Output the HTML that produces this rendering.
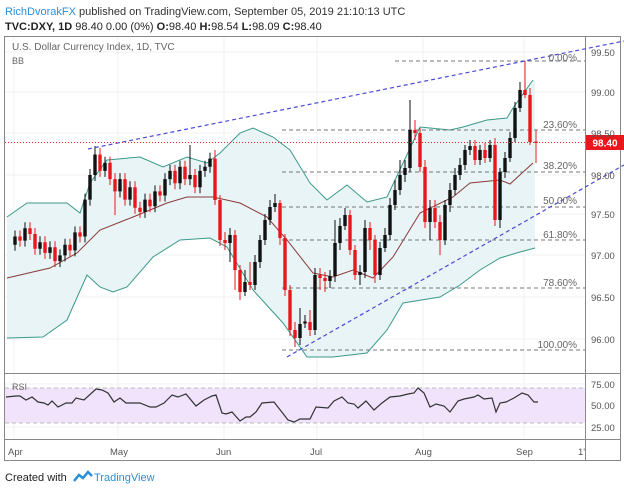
<!DOCTYPE html>
<html><head><meta charset="utf-8"><style>
body{margin:0;width:624px;height:490px;background:#fff;overflow:hidden}
</style></head><body>
<svg width="624" height="490" xmlns="http://www.w3.org/2000/svg" font-family="Liberation Sans, sans-serif">
<text x="5" y="15" font-size="11" fill="#2a8fd8">RichDvorakFX <tspan fill="#333">published on TradingView.com, September 05, 2019 21:10:13 UTC</tspan></text>
<text x="5" y="30" font-size="11" fill="#222" font-weight="bold">TVC:DXY, 1D <tspan font-weight="normal">98.40 0.00 (0%) </tspan>O:<tspan font-weight="normal">98.40 </tspan>H:<tspan font-weight="normal">98.54 </tspan>L:<tspan font-weight="normal">98.09 </tspan>C:<tspan font-weight="normal">98.40</tspan></text>
<rect x="4.5" y="36.5" width="616" height="424" fill="#fff" stroke="#888"/>
<g stroke="#edf0f3">
<path d="M14 37V439M118 37V439M224 37V439M317 37V439M423 37V439M524 37V439"/>
<path d="M5 52H585M5 92H585M5 133H585M5 175H585M5 214H585M5 255H585M5 297H585M5 339H585M5 384H585M5 405H585M5 427H585"/>
</g>
<rect x="5" y="388" width="580" height="35" fill="#f1e3fb"/>
<path d="M5 388H585M5 423H585" stroke="#bbb" stroke-dasharray="4,3"/>
<line x1="585.5" y1="37" x2="585.5" y2="460" stroke="#888"/>
<line x1="5" y1="373.5" x2="620" y2="373.5" stroke="#888"/>
<line x1="5" y1="439.5" x2="620" y2="439.5" stroke="#888"/>
<polygon points="7,217 27,203 67,203 80,213 90,183 107,160 140,157 163,167 187,157 207,163 220,153 240,133 253,128 273,137 290,150 310,183 327,200 347,185 367,202 387,197 420,127 450,130 463,127 487,120 507,118 513,108 533,80 535,80 535,248 520,252 500,258 480,270 460,285 440,297 403,303 387,330 367,353 333,357 307,357 283,323 253,290 227,247 210,238 180,240 153,257 127,287 113,292 100,287 87,275 67,320 43,337 7,338" fill="#e8f4f5"/>
<g fill="none" stroke="#3b9a8a">
<polyline points="7,217 27,203 67,203 80,213 90,183 107,160 140,157 163,167 187,157 207,163 220,153 240,133 253,128 273,137 290,150 310,183 327,200 347,185 367,202 387,197 420,127 450,130 463,127 487,120 507,118 513,108 533,80"/>
<polyline points="7,338 43,337 67,320 87,275 100,287 113,292 127,287 153,257 180,240 210,238 227,247 253,290 283,323 307,357 333,357 367,353 387,330 403,303 440,297 460,285 480,270 500,258 520,252 535,248"/>
</g>
<polyline fill="none" stroke="#8b3a3a" points="7,278 50,268 77,253 100,230 133,217 167,203 187,197 213,197 240,203 267,217 287,240 313,273 333,277 353,270 373,278 393,257 420,213 453,197 470,183 500,180 510,184 533,163"/>
<path d="M395 61H585M282 130H585M282 172H585M282 207H585M282 240H585M282 288H585M282 350H585" stroke="#777" stroke-dasharray="4,3"/>
<path stroke="#111" stroke-width="1" d="M15 230.5V250.7M25 222.3V246.6M40 236.2V254.8M50 241.2V258.9M60 249.4V267.1M65 238.7V261.4M75 226.4V256.4M85 193.6V242.5M90 169V205.6M95 146V181M105 156.7V176.9M120 173.1V197.4M130 181.3V205.6M145 193.6V217.9M155 185.4V212.2M165 173.1V201.5M170 164.9V185.1M180 160.8V189.2M190 145V185.1M200 164.9V193.3M205 160.8V176.9M210 152.6V172.8M230 228V262M245 270V296M255 255V290M260 235V268M265 214V245M270 200V225M275 194V212M300 308V345M305 315V328M315 268V335M330 270V288M335 220V282M340 218V250M345 208V230M360 265V285M365 220V278M380 242V280M385 228V252M390 198V240M395 180V210M400 160V195M405 160V182M410 100V172M430 200V240M445 200V245M450 183V212M455 168V195M460 158V180M465 145V170M470 140V155M480 145V165M490 140V162M500 168V228M505 152V178M510 132V162M515 102V142M520 82V112"/>
<path stroke="#111" stroke-width="3.4" d="M15 244.7V236.5M25 240.6V228.3M40 248.8V242.2M50 252.9V247.2M60 261.1V255.4M65 255.4V244.7M75 250.4V232.4M85 236.5V199.6M90 199.6V175M95 175V154.5M105 170.9V162.7M120 191.4V179.1M130 199.6V187.3M145 211.9V199.6M155 206.2V191.4M165 195.5V179.1M170 179.1V170.9M180 183.2V166.8M190 179.1V175M200 187.3V170.9M205 170.9V166.8M210 166.8V158.6M230 243V235M245 292V282M255 285V262M260 262V240M265 240V220M270 220V207M275 207V203M300 338V324M305 323.5V321.5M315 330V275M330 281V276M335 276V243M340 243V226M345 226V215M360 275V272M365 272V228M380 275V248M385 248V235M390 235V205M395 205V190M400 190V175M405 175V168M410 168V130M430 222V208M445 240V205M450 205V190M455 190V175M460 175V165M465 165V150M470 150V146M480 160V150M490 158V145M500 220V172M505 172V158M510 158V138M515 138V108M520 108V90"/>
<path stroke="#e8171c" stroke-width="1" d="M20 230.5V246.6M30 222.3V240M35 228V254.8M45 236.2V258.9M55 241.2V267.1M70 238.7V256.4M80 226.4V242.5M100 148V176.9M110 156.7V185.1M115 173.1V215M125 173.1V205.6M135 181.3V213.8M140 201.8V217.9M150 193.6V212.2M160 185.4V201.5M175 164.9V189.2M185 160.8V185.1M195 169V193.3M215 150V205M220 195V246M225 232V250M235 230V290M240 265V300M250 262V290M280 200V245M285 234V296M290 285V336M295 322V347M310 310V336M320 268V290M325 272V292M350 210V255M355 245V280M370 222V250M375 235V283M415 120V140M420 128V172M425 160V228M435 200V228M440 215V255M475 140V165M485 143V163M495 138V226M525 61V98M530 88V145M536 130V163"/>
<path stroke="#e8171c" stroke-width="3.4" d="M20 236.5V240.6M30 228.3V234M35 234V248.8M45 242.2V252.9M55 247.2V261.1M70 244.7V250.4M80 232.4V236.5M100 154.5V170.9M110 162.7V179.1M115 179.1V191.4M125 179.1V199.6M135 187.3V207.8M140 207.8V211.9M150 199.6V206.2M160 191.4V195.5M175 170.9V183.2M185 166.8V179.1M195 175V187.3M215 158.6V200M220 200V240M225 240V243M235 235V270M240 270V292M250 282V285M280 203V238M285 238V290M290 290V330M295 330V338M310 322V330M320 275V278M325 278V281M350 215V250M355 250V275M370 228V240M375 240V275M415 130V133M420 133V167M425 167V222M435 208V222M440 222V240M475 146V160M485 150V158M495 145V220M525 90V95M530 95V142M536 141.5V143"/>
<line x1="88" y1="149" x2="624" y2="41" stroke="#4a4ad8" stroke-dasharray="4,3" stroke-width="1.2"/>
<line x1="287" y1="357" x2="624" y2="165" stroke="#4a4ad8" stroke-dasharray="4,3" stroke-width="1.2"/>
<line x1="5" y1="142.5" x2="585" y2="142.5" stroke="#e22" stroke-dasharray="1,2"/>
<rect x="586" y="135" width="38" height="15" fill="#e8171c"/>
<text x="605" y="146.5" font-size="10" fill="#fff" text-anchor="middle" font-weight="bold">98.40</text>
<g font-size="9.5" fill="#555">
<text x="591" y="56">99.50</text><text x="591" y="96">99.00</text><text x="591" y="137">98.50</text><text x="591" y="179">98.00</text><text x="591" y="218">97.50</text><text x="591" y="259">97.00</text><text x="591" y="301">96.50</text><text x="591" y="343">96.00</text>
<text x="591" y="388">75.00</text><text x="591" y="409">50.00</text><text x="591" y="431">25.00</text>
<text x="8" y="455">Apr</text><text x="110" y="455">May</text><text x="216" y="455">Jun</text><text x="310" y="455">Jul</text><text x="415" y="455">Aug</text><text x="516" y="455">Sep</text><text x="578" y="455">1'</text>
</g>
<g font-size="10" fill="#666">
<text x="12" y="50">U.S. Dollar Currency Index, 1D, TVC</text><text x="12" y="64" font-size="9">BB</text><text x="12" y="390" font-size="9">RSI</text>
<text x="577" y="61" text-anchor="end">0.00%</text><text x="577" y="128" text-anchor="end">23.60%</text><text x="577" y="169" text-anchor="end">38.20%</text><text x="577" y="204" text-anchor="end">50.00%</text><text x="577" y="238" text-anchor="end">61.80%</text><text x="577" y="286" text-anchor="end">78.60%</text><text x="577" y="348" text-anchor="end">100.00%</text>
</g>
<polyline fill="none" stroke="#333" stroke-width="1.2" points="6,397 16,396 20,396 26,400 32,397 38,402 44,403 48,405 52,401 58,407 66,403 72,403 76,398 84,400 96,389 102,390 108,393 114,402 120,398 126,403 140,403 150,407 156,407 164,403 172,395 178,397 186,394 196,406 204,400 212,396 216,395 222,413 226,414 232,412 240,421 246,417 250,417 256,412 262,403 274,402 288,420 294,422 300,419 310,419 316,407 328,408 334,401 342,397 348,403 354,404 358,408 366,401 374,410 382,403 390,397 400,396 408,394 414,393 418,388 424,393 430,407 436,404 444,406 450,412 458,401 464,399 474,397 478,395 484,399 492,398 496,412 500,403 506,402 514,398 522,393 528,395 534,402 538,402"/>
<text x="5" y="481" font-size="11" fill="#222">Created with</text>
<path d="M74 481 l5 -6 l4 3 l5 -6 l4 4" fill="none" stroke="#2a8fd8" stroke-width="2.5"/>
<text x="94" y="481" font-size="11" fill="#2a8fd8">TradingView</text>
</svg>
</body></html>
